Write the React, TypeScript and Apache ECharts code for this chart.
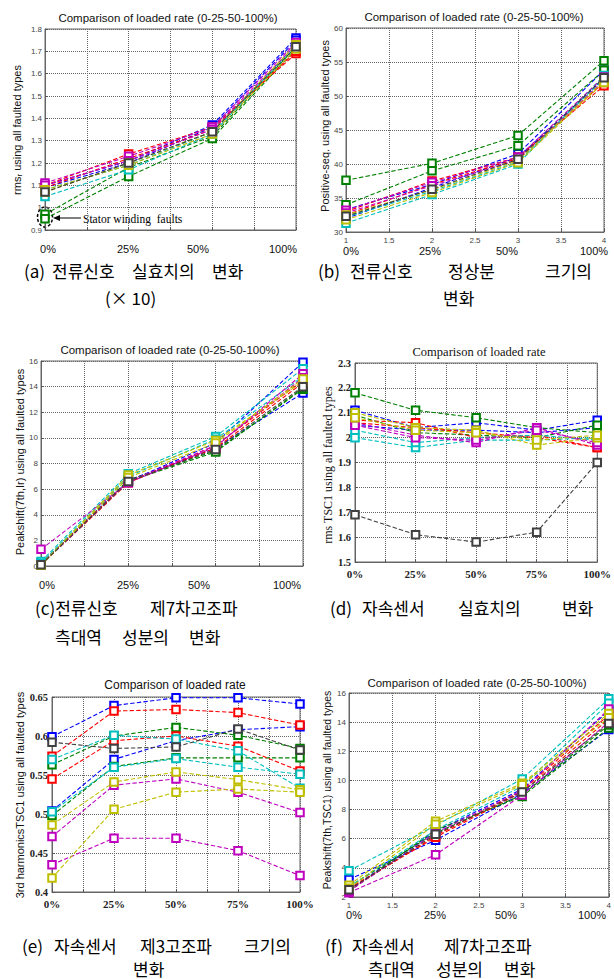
import React, { useEffect, useRef } from "react";
import * as echarts from "echarts";

// ---------- data ----------
const loadSteps4 = [1, 2, 3, 4];
const loadSteps5 = [0, 25, 50, 75, 100];
const loadLabels4 = ["0%", "25%", "50%", "100%"];

// (a) rms of current (x10)
const rmsCurrent: number[][] = [
  [1.1, 1.21, 1.37, 1.76],
  [1.09, 1.2, 1.36, 1.75],
  [0.97, 1.18, 1.32, 1.72],
  [0.95, 1.14, 1.31, 1.71],
  [1.1, 1.24, 1.36, 1.69],
  [1.09, 1.22, 1.35, 1.7],
  [1.05, 1.17, 1.33, 1.73],
  [1.08, 1.19, 1.34, 1.72],
  [1.11, 1.23, 1.36, 1.74],
  [1.1, 1.21, 1.35, 1.73],
  [1.07, 1.2, 1.34, 1.73],
  [1.08, 1.19, 1.33, 1.71],
  [1.07, 1.2, 1.34, 1.72],
];

// (b) positive-sequence magnitude
const positiveSeq: number[][] = [
  [33.3, 37.0, 41.5, 53.8],
  [32.0, 36.5, 41.0, 52.5],
  [37.6, 40.1, 44.2, 55.2],
  [34.0, 39.0, 42.7, 53.8],
  [33.0, 37.5, 41.0, 51.5],
  [32.5, 37.0, 40.8, 52.0],
  [31.3, 35.5, 40.0, 53.0],
  [32.2, 36.0, 40.3, 52.6],
  [33.2, 37.3, 41.0, 52.8],
  [32.8, 36.8, 40.6, 52.3],
  [32.5, 36.2, 40.5, 52.2],
  [31.8, 35.8, 40.2, 52.0],
  [32.3, 36.3, 40.7, 52.7],
];

// (c) peak shift 7th, current
const peakShiftCurrent: number[][] = [
  [0.1, 6.6, 9.6, 15.9],
  [0.2, 6.7, 9.2, 13.5],
  [0.1, 6.7, 9.0, 13.8],
  [0.15, 6.6, 8.9, 13.9],
  [0.1, 6.5, 9.4, 14.5],
  [0.2, 6.6, 9.2, 14.3],
  [0.35, 7.2, 10.1, 15.4],
  [0.2, 7.0, 9.9, 14.8],
  [1.3, 6.5, 9.3, 15.0],
  [0.1, 6.6, 9.4, 14.7],
  [0.1, 7.1, 9.8, 14.4],
  [0.05, 6.9, 9.6, 14.6],
  [0.1, 6.6, 9.1, 14.0],
];

// (d) rms TSC1
const rmsFlux: number[][] = [
  [2.11, 2.04, 2.06, 2.03, 2.07],
  [2.05, 2.03, 2.03, 2.02, 2.04],
  [2.18, 2.11, 2.08, 2.04, 2.02],
  [2.09, 2.02, 2.01, 2.0, 2.05],
  [2.07, 2.06, 2.0, 2.01, 1.96],
  [2.06, 2.04, 2.02, 2.0, 1.96],
  [2.0, 1.96, 1.99, 1.99, 2.0],
  [2.03, 1.98, 2.0, 2.01, 1.99],
  [2.06, 2.01, 1.98, 2.04, 1.97],
  [2.05, 2.0, 1.99, 2.03, 1.98],
  [2.1, 2.04, 2.03, 1.97, 2.0],
  [2.08, 2.03, 2.02, 1.99, 2.01],
  [1.69, 1.61, 1.58, 1.62, 1.9],
];

// (e) 3rd harmonics TSC1
const thirdHarmonic: number[][] = [
  [0.599, 0.639, 0.649, 0.649, 0.641],
  [0.504, 0.57, 0.594, 0.608, 0.612],
  [0.563, 0.6, 0.611, 0.601, 0.584],
  [0.498, 0.561, 0.572, 0.572, 0.572],
  [0.574, 0.632, 0.634, 0.63, 0.614],
  [0.545, 0.594, 0.6, 0.587, 0.555],
  [0.57, 0.601, 0.596, 0.581, 0.533],
  [0.503, 0.56, 0.571, 0.56, 0.551],
  [0.471, 0.537, 0.545, 0.528, 0.502],
  [0.435, 0.469, 0.469, 0.453, 0.421],
  [0.486, 0.541, 0.554, 0.544, 0.531],
  [0.418, 0.506, 0.528, 0.532, 0.528],
  [0.592, 0.584, 0.586, 0.609, 0.582],
];

// (f) peak shift 7th, TSC1
const peakShiftFlux: number[][] = [
  [3.2, 5.9, 9.1, 13.5],
  [2.5, 6.5, 9.4, 14.8],
  [2.4, 6.6, 8.9, 13.6],
  [2.7, 6.4, 9.0, 13.8],
  [2.5, 6.2, 9.3, 14.5],
  [2.6, 6.1, 9.2, 14.2],
  [3.8, 6.9, 10.1, 15.6],
  [2.7, 6.6, 9.6, 15.3],
  [2.3, 4.9, 9.0, 14.0],
  [2.4, 6.4, 9.3, 14.9],
  [2.8, 7.2, 9.8, 14.6],
  [2.6, 7.0, 9.7, 14.3],
  [2.5, 6.3, 9.2, 13.9],
];

// ---------- styles ----------
const lineColors = [
  "#0000ff", "#0000ff", "#008000", "#008000", "#ff0000", "#ff0000",
  "#00bfbf", "#00bfbf", "#bf00bf", "#bf00bf", "#bfbf00", "#bfbf00", "#404040",
];

const SANS = "Liberation Sans, Arial, sans-serif";
const SERIF = "Liberation Serif, Times New Roman, serif";
const KR = "Noto Sans CJK KR, sans-serif";

const grids = [
  { left: 45, top: 29, width: 251, height: 201 },
  { left: 346, top: 28, width: 258, height: 204 },
  { left: 41, top: 361, width: 262, height: 205 },
  { left: 355, top: 363, width: 251, height: 199 },
  { left: 52, top: 697, width: 248, height: 195 },
  { left: 349, top: 693, width: 260, height: 204 },
];

const splitStyle = { show: true, lineStyle: { type: "dotted" as const, color: "#666", width: 1 } };
const tickStyle = { show: true, inside: true, length: 3, lineStyle: { color: "#555" } };
const lineAxis = { show: true, lineStyle: { color: "#666" } };

function xAxis4(gridIndex: number, showLabels: boolean) {
  return {
    type: "value", gridIndex, min: 1, max: 4, interval: 0.5,
    axisLine: lineAxis, axisTick: tickStyle, splitLine: splitStyle,
    axisLabel: { show: showLabels, fontSize: 8, color: "#444", fontFamily: SANS, margin: 4 },
  };
}
function xAxis5(gridIndex: number) {
  return {
    type: "value", gridIndex, min: 0, max: 100, interval: 12.5,
    axisLine: lineAxis, axisTick: tickStyle, splitLine: splitStyle,
    axisLabel: {
      show: true, fontSize: 11, fontWeight: "bold", color: "#222", fontFamily: SERIF, margin: 6,
      showMinLabel: true, showMaxLabel: true,
      formatter: (v: number) => (v % 25 === 0 ? v + "%" : ""),
    },
  };
}
function yAxis(gridIndex: number, min: number, max: number, interval: number, serif: boolean) {
  return {
    type: "value", gridIndex, min, max, interval,
    axisLine: lineAxis, axisTick: tickStyle, splitLine: splitStyle,
    axisLabel: serif
      ? { fontSize: 10.5, fontWeight: "bold", color: "#222", fontFamily: SERIF, margin: 4 }
      : { fontSize: 8, color: "#444", fontFamily: SANS, margin: 3 },
  };
}

function makeSeries(values: number[][], xs: number[], idx: number) {
  return values.map((row, k) => ({
    type: "line",
    name: `p${idx}-${k}`,
    xAxisIndex: idx,
    yAxisIndex: idx,
    data: row.map((v, j) => [xs[j], v]),
    symbol: "emptyRect",
    symbolSize: 7.5,
    color: lineColors[k],
    lineStyle: { type: "dashed", width: 1.1, color: lineColors[k] },
    itemStyle: { color: lineColors[k], borderColor: lineColors[k], borderWidth: 1.2 },
  }));
}

function txt(text: string, x: number, y: number, o: any = {}) {
  return {
    type: "text", x, y, rotation: o.rotation || 0, silent: true,
    style: {
      text, fill: o.color || "#111", fontSize: o.size || 11, fontFamily: o.family || SANS,
      fontWeight: o.weight || "normal", align: o.align || "center", verticalAlign: "middle",
      lineHeight: o.lineHeight, rich: o.rich,
    },
  };
}

function words(list: [string, number][], y: number) {
  return list.map(([w, x]) =>
    txt(w, x, y, { size: 17, lineHeight: 18, family: KR, align: "left", color: "#000" })
  );
}

export default function App() {
  const ref = useRef<HTMLDivElement>(null);
  useEffect(() => {
    if (!ref.current) return;
    const chart = echarts.init(ref.current, undefined, { renderer: "svg" });
    const title4 = "Comparison of loaded rate (0-25-50-100%)";
    const titleShort = "Comparison of loaded rate";
    const graphic: any[] = [
      // titles
      txt(title4, 168, 18, { size: 11.5 }),
      txt(title4, 474, 17, { size: 11.5 }),
      txt(title4, 170, 350, { size: 11.5 }),
      txt(titleShort, 479, 352, { size: 12.5, family: SERIF }),
      txt(titleShort, 175, 685, { size: 12 }),
      txt(title4, 477, 683, { size: 11.5 }),
      // y names
      txt("rms{s|r} using all faulted types", 17, 130, {
        size: 11, rotation: Math.PI / 2,
        rich: { s: { fontSize: 8, fontFamily: SANS, fill: "#111", padding: [5, 0, 0, 0] } },
      }),
      txt("Positive-seq. using all faulted types", 325, 126, { size: 11, rotation: Math.PI / 2 }),
      txt("Peakshift(7th,Ir) using all faulted types", 20, 462, { size: 11, rotation: Math.PI / 2 }),
      txt("rms TSC1 using all faulted types", 328, 465, { size: 12, family: SERIF, rotation: Math.PI / 2 }),
      txt("3rd harmonicsTSC1 using all faulted types", 20, 795, { size: 11, rotation: Math.PI / 2 }),
      txt("Peakshift(7th,TSC1) using all faulted types", 327, 790, { size: 10.5, rotation: Math.PI / 2 }),
      // load labels under a, b, c, f
      ...loadLabels4.map((l, i) => txt(l, [48, 128, 198, 283][i], 249, { size: 11 })),
      ...loadLabels4.map((l, i) => txt(l, [351, 430, 507, 594][i], 251, { size: 11 })),
      ...loadLabels4.map((l, i) => txt(l, [47, 128, 199, 287][i], 585, { size: 11 })),
      ...loadLabels4.map((l, i) => txt(l, [354, 435, 506, 592][i], 915, { size: 11 })),
      // stator winding annotation
      {
        type: "ellipse", silent: true,
        shape: { cx: 45, cy: 217, rx: 7.5, ry: 10 },
        style: { fill: "none", stroke: "#000", lineWidth: 1.5, lineDash: [3, 2] },
      },
      {
        type: "line", silent: true,
        shape: { x1: 81, y1: 218, x2: 57, y2: 218 },
        style: { stroke: "#000", lineWidth: 1 },
      },
      {
        type: "polygon", silent: true,
        shape: { points: [[53, 218], [60, 215], [60, 221]] },
        style: { fill: "#000" },
      },
      txt("Stator winding  faults", 83, 219, { size: 11.5, family: SERIF, align: "left", color: "#000" }),
      // captions
      ...words([["(a)", 24], ["전류신호", 52], ["실효치의", 132], ["변화", 212]], 270),
      ...words([["(× 10)", 105]], 297),
      ...words([["(b)", 318], ["전류신호", 350], ["정상분", 448], ["크기의", 545]], 270),
      ...words([["변화", 443]], 297),
      ...words([["(c)전류신호", 35], ["제7차고조파", 150]], 607),
      ...words([["측대역", 55], ["성분의", 122], ["변화", 189]], 636),
      ...words([["(d)", 330], ["자속센서", 362], ["실효치의", 458], ["변화", 562]], 607),
      ...words([["(e)", 22], ["자속센서", 54], ["제3고조파", 140], ["크기의", 244]], 945),
      ...words([["변화", 133]], 968),
      ...words([["(f)", 325], ["자속센서", 352], ["제7차고조파", 444]], 945),
      ...words([["측대역", 368], ["성분의", 436], ["변화", 504]], 968),
    ];

    const option: any = {
      animation: false,
      backgroundColor: "#fff",
      grid: grids.map((g) => ({ ...g, show: true, borderColor: "#666", borderWidth: 1, backgroundColor: "#fff" })),
      xAxis: [xAxis4(0, false), xAxis4(1, true), xAxis4(2, false), xAxis5(3), xAxis5(4), xAxis4(5, true)],
      yAxis: [
        yAxis(0, 0.9, 1.8, 0.1, false),
        yAxis(1, 30, 60, 5, false),
        yAxis(2, 0, 16, 2, false),
        yAxis(3, 1.5, 2.3, 0.1, true),
        yAxis(4, 0.4, 0.65, 0.05, true),
        yAxis(5, 2, 16, 2, false),
      ],
      series: [
        ...makeSeries(rmsCurrent, loadSteps4, 0),
        ...makeSeries(positiveSeq, loadSteps4, 1),
        ...makeSeries(peakShiftCurrent, loadSteps4, 2),
        ...makeSeries(rmsFlux, loadSteps5, 3),
        ...makeSeries(thirdHarmonic, loadSteps5, 4),
        ...makeSeries(peakShiftFlux, loadSteps4, 5),
      ],
      graphic,
    };
    chart.setOption(option);
    return () => chart.dispose();
  }, []);
  return (
    <div
      ref={ref}
      style={{ position: "fixed", left: 0, top: 0, width: 614, height: 979, background: "#fff" }}
    />
  );
}
